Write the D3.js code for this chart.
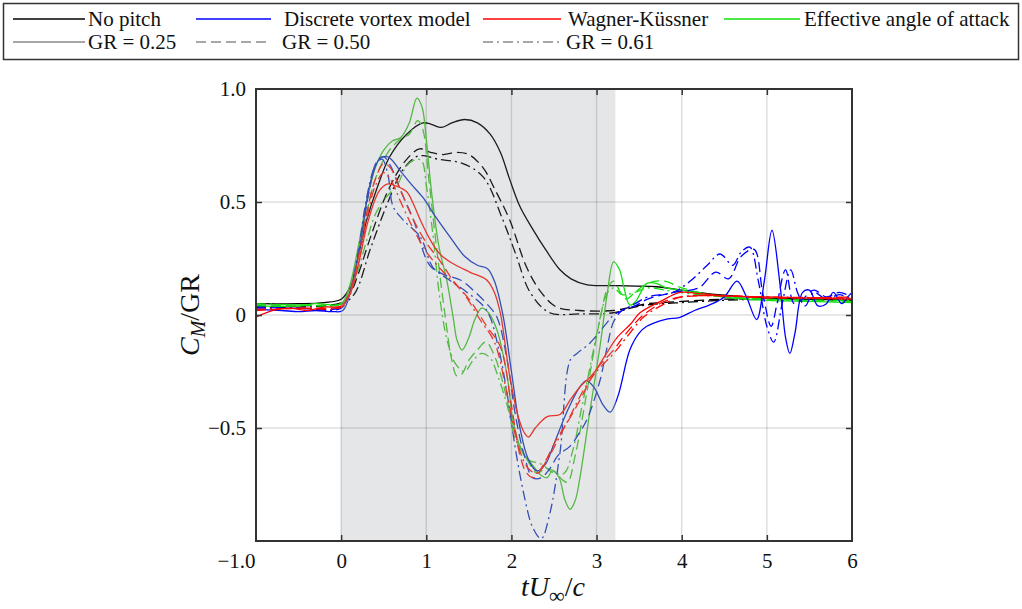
<!DOCTYPE html>
<html><head><meta charset="utf-8">
<script src="https://cdn.jsdelivr.net/npm/d3@7"></script>
<style>
body{margin:0;background:#fff}
svg{display:block}
text{font-family:"Liberation Serif","Times New Roman",serif;fill:#111}
</style>
</head><body>
<svg id="c" width="1022" height="609"></svg>
<script>
// ---------- DATA ----------
const xTicks = [-1, 0, 1, 2, 3, 4, 5, 6];
const xTickLabels = ["\u22121.0", "0", "1", "2", "3", "4", "5", "6"];
const yTicks = [1.0, 0.5, 0, -0.5];
const yTickLabels = ["1.0", "0.5", "0", "\u22120.5"];
const shadeRange = [0, 3.22];

const modelNames = ["No pitch", "Discrete vortex model", "Wagner-Küssner", "Effective angle of attack"];
const grNames = ["GR = 0.25", "GR = 0.50", "GR = 0.61"];

// No pitch
const noPitch25 = [[-1,0.05],[-0.5,0.05],[-0.2,0.055],[0,0.07],[0.1,0.12],[0.2,0.26],[0.3,0.42],[0.42,0.56],[0.57,0.7],[0.77,0.8],[0.96,0.85],[1.05,0.845],[1.18,0.83],[1.3,0.85],[1.45,0.865],[1.6,0.85],[1.75,0.8],[1.87,0.72],[1.98,0.6],[2.1,0.48],[2.25,0.38],[2.4,0.29],[2.57,0.2],[2.7,0.16],[2.89,0.133],[3.2,0.13],[3.7,0.125],[4.0,0.11],[4.3,0.095],[4.6,0.085],[5,0.075],[5.5,0.07],[6,0.065]];
const noPitch50 = [[-1,0.04],[-0.5,0.04],[0,0.055],[0.1,0.09],[0.2,0.18],[0.35,0.35],[0.55,0.55],[0.75,0.68],[0.92,0.735],[1.05,0.72],[1.2,0.71],[1.36,0.72],[1.5,0.71],[1.67,0.65],[1.8,0.56],[1.98,0.42],[2.18,0.21],[2.35,0.1],[2.53,0.035],[2.8,0.02],[3.2,0.02],[3.4,0.035],[3.6,0.05],[4,0.06],[4.5,0.07],[5,0.07],[6,0.065]];
const noPitch61 = [[-1,0.035],[-0.5,0.035],[0,0.05],[0.15,0.09],[0.35,0.3],[0.55,0.5],[0.72,0.64],[0.88,0.7],[0.97,0.705],[1.13,0.69],[1.43,0.67],[1.67,0.61],[1.9,0.42],[2.05,0.27],[2.22,0.1],[2.45,0.01],[2.8,0.005],[3.2,0.01],[3.4,0.03],[3.6,0.045],[4,0.055],[4.5,0.065],[5,0.07],[6,0.07]];

// Discrete vortex model
const dvm25 = [[-1,0.025],[-0.7,0.02],[-0.5,0.015],[-0.3,0.02],[-0.1,0.015],[0.02,0.02],[0.12,0.12],[0.22,0.3],[0.34,0.58],[0.45,0.69],[0.55,0.7],[0.69,0.64],[0.82,0.58],[0.96,0.52],[1.1,0.44],[1.28,0.345],[1.45,0.26],[1.6,0.22],[1.72,0.205],[1.8,0.15],[1.9,0.0],[2.0,-0.25],[2.1,-0.5],[2.2,-0.64],[2.3,-0.69],[2.4,-0.66],[2.49,-0.58],[2.65,-0.43],[2.8,-0.32],[2.88,-0.29],[2.97,-0.32],[3.08,-0.4],[3.16,-0.43],[3.25,-0.36],[3.39,-0.155],[3.5,-0.08],[3.59,-0.05],[3.8,-0.02],[3.98,-0.01],[4.15,0.02],[4.33,0.045],[4.5,0.08],[4.65,0.15],[4.76,0.08],[4.88,-0.02],[4.97,0.15],[5.06,0.375],[5.15,0.15],[5.22,-0.1],[5.27,-0.17],[5.33,-0.08],[5.42,0.1],[5.5,0.11],[5.6,0.04],[5.7,0.05],[5.78,0.1],[5.88,0.05],[5.95,0.08],[6,0.1]];
const dvm50 = [[-1,0.035],[-0.5,0.03],[0,0.035],[0.1,0.1],[0.22,0.3],[0.33,0.55],[0.42,0.68],[0.5,0.7],[0.58,0.66],[0.7,0.55],[0.85,0.42],[1.04,0.22],[1.2,0.18],[1.4,0.155],[1.55,0.11],[1.71,0.05],[1.83,-0.01],[1.95,-0.2],[2.05,-0.45],[2.15,-0.62],[2.25,-0.72],[2.35,-0.72],[2.45,-0.68],[2.55,-0.62],[2.69,-0.58],[2.8,-0.52],[2.89,-0.46],[3.04,-0.29],[3.12,-0.15],[3.2,-0.03],[3.3,0.02],[3.45,0.04],[3.6,0.07],[3.9,0.1],[4.2,0.12],[4.4,0.19],[4.55,0.16],[4.7,0.26],[4.85,0.29],[4.95,0.1],[5.05,-0.05],[5.12,0.05],[5.22,0.2],[5.32,0.05],[5.42,0.07],[5.55,0.11],[5.7,0.08],[5.85,0.1],[6,0.08]];
const dvm61 = [[-1,0.03],[-0.5,0.03],[0,0.03],[0.1,0.1],[0.2,0.28],[0.3,0.52],[0.4,0.66],[0.48,0.69],[0.55,0.62],[0.61,0.48],[0.73,0.42],[0.93,0.345],[1.08,0.21],[1.25,0.16],[1.48,0.1],[1.71,0.02],[1.85,-0.15],[1.95,-0.35],[2.05,-0.6],[2.15,-0.8],[2.25,-0.94],[2.35,-0.99],[2.45,-0.88],[2.57,-0.61],[2.69,-0.2],[2.77,-0.17],[2.92,-0.125],[3.12,-0.035],[3.2,0.0],[3.3,0.02],[3.45,0.05],[3.6,0.08],[3.9,0.1],[4.1,0.15],[4.3,0.22],[4.45,0.27],[4.6,0.22],[4.7,0.28],[4.8,0.3],[4.9,0.15],[5.0,-0.05],[5.08,-0.12],[5.18,0.05],[5.28,0.2],[5.36,0.1],[5.45,0.04],[5.55,0.1],[5.7,0.07],[5.85,0.09],[6,0.07]];

// Wagner-Küssner
const wk25 = [[-1,-0.01],[-0.8,0.02],[-0.6,0.03],[-0.4,0.02],[-0.2,0.035],[0,0.04],[0.1,0.09],[0.2,0.22],[0.32,0.42],[0.45,0.55],[0.55,0.58],[0.65,0.57],[0.77,0.545],[0.85,0.49],[0.93,0.42],[1.05,0.33],[1.16,0.27],[1.3,0.23],[1.51,0.19],[1.71,0.155],[1.8,0.1],[1.87,0.008],[1.98,-0.27],[2.08,-0.45],[2.15,-0.52],[2.2,-0.54],[2.28,-0.5],[2.42,-0.45],[2.57,-0.44],[2.7,-0.37],[2.8,-0.32],[2.96,-0.26],[3.1,-0.18],[3.24,-0.1],[3.4,-0.04],[3.51,0.01],[3.75,0.06],[3.98,0.1],[4.2,0.095],[4.5,0.085],[5,0.08],[5.5,0.075],[6,0.07]];
const wk50 = [[-1,0.02],[-0.5,0.03],[0,0.04],[0.1,0.1],[0.2,0.25],[0.3,0.45],[0.4,0.6],[0.5,0.67],[0.58,0.65],[0.7,0.55],[0.85,0.42],[1.0,0.32],[1.16,0.24],[1.31,0.155],[1.51,0.066],[1.71,-0.05],[1.87,-0.14],[2.0,-0.4],[2.1,-0.62],[2.18,-0.7],[2.26,-0.72],[2.38,-0.66],[2.53,-0.55],[2.68,-0.46],[2.8,-0.38],[3.0,-0.24],[3.2,-0.155],[3.35,-0.08],[3.55,0.0],[3.8,0.06],[4.0,0.08],[4.5,0.085],[5,0.075],[6,0.08]];
const wk61 = [[-1,0.025],[-0.5,0.03],[0,0.035],[0.1,0.09],[0.2,0.22],[0.3,0.42],[0.4,0.57],[0.5,0.63],[0.58,0.6],[0.7,0.5],[0.85,0.38],[1.0,0.28],[1.2,0.19],[1.43,0.1],[1.63,-0.02],[1.8,-0.12],[1.95,-0.35],[2.08,-0.58],[2.2,-0.68],[2.3,-0.7],[2.42,-0.64],[2.55,-0.55],[2.7,-0.44],[2.85,-0.33],[3.0,-0.25],[3.2,-0.17],[3.35,-0.1],[3.55,-0.01],[3.8,0.05],[4.0,0.08],[4.5,0.085],[5,0.08],[6,0.075]];

// Effective angle of attack
const eaa25 = [[-1,0.04],[-0.5,0.04],[-0.3,0.05],[0,0.05],[0.1,0.13],[0.2,0.3],[0.3,0.5],[0.4,0.65],[0.5,0.73],[0.6,0.77],[0.7,0.785],[0.8,0.85],[0.89,0.96],[0.95,0.92],[1.0,0.78],[1.06,0.55],[1.15,0.3],[1.24,0.155],[1.32,-0.02],[1.36,-0.11],[1.42,-0.155],[1.5,-0.1],[1.57,-0.02],[1.65,0.03],[1.73,0.01],[1.83,-0.066],[1.95,-0.27],[2.02,-0.47],[2.12,-0.6],[2.26,-0.67],[2.35,-0.71],[2.42,-0.72],[2.48,-0.69],[2.56,-0.72],[2.63,-0.82],[2.69,-0.86],[2.75,-0.82],[2.8,-0.73],[2.92,-0.43],[3.04,-0.14],[3.12,0.08],[3.2,0.235],[3.27,0.2],[3.32,0.124],[3.39,0.044],[3.46,0.06],[3.52,0.1],[3.59,0.14],[3.7,0.14],[3.82,0.12],[4.0,0.11],[4.3,0.09],[4.6,0.075],[5,0.065],[5.5,0.06],[6,0.055]];
const eaa50 = [[-1,0.045],[-0.5,0.045],[0,0.05],[0.1,0.12],[0.2,0.27],[0.3,0.45],[0.4,0.6],[0.55,0.72],[0.7,0.78],[0.8,0.8],[0.9,0.86],[0.96,0.82],[1.03,0.6],[1.12,0.3],[1.22,0.0],[1.3,-0.2],[1.36,-0.27],[1.42,-0.26],[1.5,-0.2],[1.6,-0.155],[1.7,-0.12],[1.8,-0.18],[1.9,-0.3],[2.0,-0.46],[2.1,-0.58],[2.2,-0.65],[2.3,-0.7],[2.4,-0.68],[2.5,-0.69],[2.6,-0.73],[2.66,-0.74],[2.75,-0.62],[2.85,-0.42],[2.95,-0.2],[3.05,0.0],[3.13,0.12],[3.2,0.15],[3.28,0.1],[3.35,0.07],[3.45,0.1],[3.6,0.14],[3.8,0.15],[4.0,0.12],[4.5,0.08],[5,0.07],[6,0.06]];
const eaa61 = [[-1,0.05],[-0.5,0.045],[0,0.05],[0.1,0.1],[0.2,0.2],[0.3,0.33],[0.42,0.46],[0.55,0.53],[0.66,0.575],[0.77,0.66],[0.89,0.69],[0.95,0.68],[1.0,0.575],[1.08,0.35],[1.15,0.1],[1.25,-0.12],[1.35,-0.22],[1.45,-0.25],[1.55,-0.2],[1.65,-0.17],[1.75,-0.19],[1.85,-0.28],[1.95,-0.4],[2.05,-0.55],[2.2,-0.64],[2.35,-0.66],[2.5,-0.7],[2.62,-0.7],[2.72,-0.6],[2.82,-0.42],[2.95,-0.18],[3.05,0.0],[3.13,0.1],[3.2,0.12],[3.3,0.09],[3.45,0.1],[3.6,0.12],[3.8,0.11],[4.2,0.09],[5,0.07],[6,0.065]];

// ---------- STYLE ----------
const brightColors = ["#000000", "#0000ff", "#ff0000", "#10e010"];
const mutedColors  = ["#1c1c1c", "#3550b4", "#e4382e", "#55b845"];
const dashes = [null, "10,5", "10,4,2,4"];

const series = [
  {m:0,g:0,d:noPitch25},{m:0,g:1,d:noPitch50},{m:0,g:2,d:noPitch61},
  {m:3,g:0,d:eaa25},{m:3,g:1,d:eaa50},{m:3,g:2,d:eaa61},
  {m:1,g:0,d:dvm25},{m:1,g:1,d:dvm50},{m:1,g:2,d:dvm61},
  {m:2,g:0,d:wk25},{m:2,g:1,d:wk50},{m:2,g:2,d:wk61}
];

const svg = d3.select("#c");
const x = d3.scaleLinear().domain([-1, 6]).range([256, 852]);
const y = d3.scaleLinear().domain([-1, 1]).range([541, 89]);

// ---------- LEGEND ----------
const leg = svg.append("g");
leg.append("rect").attr("x",3.5).attr("y",3.5).attr("width",1015).attr("height",56)
  .attr("fill","#fff").attr("stroke","#333").attr("stroke-width",1.5);
const legRow1 = [[13,85,88],[196,271,284],[483,561,568],[724,800,804]];
const legRow2 = [[13,85,88],[196,271,282],[483,561,566]];
modelNames.forEach((n,i)=>{
  const p = legRow1[i];
  leg.append("line").attr("x1",p[0]).attr("x2",p[1]).attr("y1",19).attr("y2",19)
    .attr("stroke",brightColors[i]).attr("stroke-width",1.5);
  leg.append("text").attr("x",p[2]).attr("y",26).attr("font-size",21).text(n);
});
grNames.forEach((n,i)=>{
  const p = legRow2[i];
  leg.append("line").attr("x1",p[0]).attr("x2",p[1]).attr("y1",42).attr("y2",42)
    .attr("stroke","#8a8a8a").attr("stroke-width",1.5).attr("stroke-dasharray",dashes[i]);
  leg.append("text").attr("x",p[2]).attr("y",49).attr("font-size",21).text(n);
});

// ---------- PLOT BACKGROUND ----------
svg.append("rect").attr("x",x(shadeRange[0])).attr("y",y(1))
  .attr("width",x(shadeRange[1])-x(shadeRange[0])).attr("height",y(-1)-y(1))
  .attr("fill","#e5e6e8");

// grid
const grid = svg.append("g").attr("stroke","#000").attr("stroke-opacity",0.13).attr("stroke-width",1.5);
xTicks.slice(1,-1).forEach(v=>grid.append("line").attr("x1",x(v)).attr("x2",x(v)).attr("y1",y(1)).attr("y2",y(-1)));
[0.5,0,-0.5].forEach(v=>grid.append("line").attr("x1",x(-1)).attr("x2",x(6)).attr("y1",y(v)).attr("y2",y(v)));

// clips
const defs = svg.append("defs");
defs.append("clipPath").attr("id","cin").append("rect")
  .attr("x",x(shadeRange[0])).attr("y",y(1)).attr("width",x(shadeRange[1])-x(shadeRange[0])).attr("height",y(-1)-y(1));
const cout = defs.append("clipPath").attr("id","cout");
cout.append("rect").attr("x",x(-1)).attr("y",y(1)).attr("width",x(shadeRange[0])-x(-1)).attr("height",y(-1)-y(1));
cout.append("rect").attr("x",x(shadeRange[1])).attr("y",y(1)).attr("width",x(6)-x(shadeRange[1])).attr("height",y(-1)-y(1));

const line = d3.line().x(d=>x(d[0])).y(d=>y(d[1])).curve(d3.curveCatmullRom.alpha(0.5));
const gIn = svg.append("g").attr("clip-path","url(#cin)");
const gOut = svg.append("g").attr("clip-path","url(#cout)");
series.forEach(s=>{
  gIn.append("path").attr("d",line(s.d)).attr("fill","none").attr("stroke",mutedColors[s.m])
    .attr("stroke-width",1.3).attr("stroke-dasharray",dashes[s.g]);
  gOut.append("path").attr("d",line(s.d)).attr("fill","none").attr("stroke",brightColors[s.m])
    .attr("stroke-width",1.3).attr("stroke-dasharray",dashes[s.g]);
});

// ---------- AXES ----------
function styleAxis(g){
  g.select(".domain").remove();
  g.selectAll(".tick line").attr("stroke","#333").attr("stroke-width",1.5);
  g.selectAll("text").attr("font-size",21).attr("fill","#111")
    .attr("font-family",'"Liberation Serif","Times New Roman",serif');
}
const ax = svg.append("g").attr("transform",`translate(0,${y(-1)})`)
  .call(d3.axisBottom(x).tickValues(xTicks).tickSizeInner(-6).tickSizeOuter(0).tickPadding(12)
    .tickFormat((d,i)=>xTickLabels[i]));
styleAxis(ax);
ax.selectAll(".tick").filter(d=>d===-1).select("text").attr("text-anchor","end").attr("dx",-1);
ax.selectAll(".tick").filter(d=>d===-1||d===6).select("line").remove();

const axT = svg.append("g").attr("transform",`translate(0,${y(1)})`)
  .call(d3.axisTop(x).tickValues(xTicks.slice(1,-1)).tickSizeInner(-6).tickSizeOuter(0).tickFormat(""));
styleAxis(axT);

const ay = svg.append("g").attr("transform",`translate(${x(-1)},0)`)
  .call(d3.axisLeft(y).tickValues(yTicks).tickSizeInner(-6).tickSizeOuter(0).tickPadding(10)
    .tickFormat((d,i)=>yTickLabels[i]));
styleAxis(ay);
ay.selectAll(".tick").filter(d=>d===1).select("line").remove();

const ayR = svg.append("g").attr("transform",`translate(${x(6)},0)`)
  .call(d3.axisRight(y).tickValues([0.5,0,-0.5]).tickSizeInner(-6).tickSizeOuter(0).tickFormat(""));
styleAxis(ayR);

// frame
svg.append("rect").attr("x",x(-1)).attr("y",y(1)).attr("width",x(6)-x(-1)).attr("height",y(-1)-y(1))
  .attr("fill","none").attr("stroke","#333").attr("stroke-width",2);

// axis titles
const yt = svg.append("text").attr("transform",`translate(199,${y(0)}) rotate(-90)`)
  .attr("text-anchor","middle").attr("font-size",28);
yt.append("tspan").attr("font-style","italic").text("C");
yt.append("tspan").attr("font-style","italic").attr("font-size",20).attr("dy",6).text("M");
yt.append("tspan").attr("dy",-6).text("/GR");

const xt = svg.append("text").attr("x",553).attr("y",596).attr("text-anchor","middle").attr("font-size",28);
xt.append("tspan").attr("font-style","italic").text("tU");
xt.append("tspan").attr("font-size",22).attr("dy",7).text("\u221E");
xt.append("tspan").attr("dy",-7).text("/");
xt.append("tspan").attr("font-style","italic").text("c");
</script>
</body></html>
